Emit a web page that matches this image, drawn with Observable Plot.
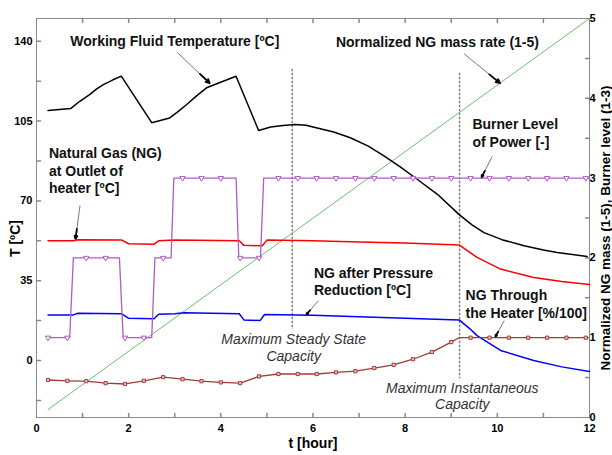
<!DOCTYPE html>
<html><head><meta charset="utf-8">
<script src="https://cdn.jsdelivr.net/npm/d3@7"></script>
<script src="https://cdn.jsdelivr.net/npm/@observablehq/plot@0.6"></script>
<style>body{margin:0;background:#fff} svg{display:block}</style>
</head><body><div id="chart"></div>
<script>
// ---- data (time in hours) ----
const wfTime = [0.25,0.74,0.94,1.16,1.3,1.45,1.65,1.84,2.5,2.89,3.05,3.26,3.48,3.69,4.05,4.33,4.82,5.08,5.35,5.62,5.85,6.09,6.45,6.81,7.2,7.54,7.9,8.26,8.7,9.16,9.45,9.71,10.1,10.58,11.0,11.3,11.95];
const wfTemp = [109.7,110.5,113.7,116.7,119,121,123,124.7,104.3,106.4,108.8,112.3,116.2,119.6,122.5,124.7,100.9,102.4,103.1,103.5,103.2,102,100.2,97.7,94,89.7,84.8,79.5,72.9,64.2,59.5,56.1,53,50.3,48.5,47.4,45.6];

const outTime = [0.25,0.8,0.9,1.85,2.0,2.55,2.65,3.0,4.4,4.5,4.9,5.0,6,7,8,9.17,9.56,10.07,10.79,11.4,12];
const outTemp = [52.5,52.5,53,52.8,51.2,51,52.5,52.8,52.5,50.5,50.3,52.8,52.5,52,51.5,50.7,45.2,40.1,36.4,34.6,33.3];

const redTime = [0.25,0.8,0.9,1.85,2.0,2.55,2.65,3.0,3.2,4.4,4.5,4.85,4.95,6,7,8,9.17,9.4,9.56,10.07,10.79,11.4,12];
const redTemp = [20,20,20.7,20.5,18.5,18.3,20.3,20.5,20.9,20.5,17.8,17.5,20.2,19.8,19.2,18.5,17.8,14,10.9,4.4,0,-2.8,-4.8];

const massTime = [0.25,12];
const massNorm = [0.1,5];

const burnerLineTime = [0.25,0.72,0.80,1.80,1.88,2.50,2.57,2.92,2.98,4.33,4.39,4.86,4.93,12];
const burnerLineLevel = [1,1,2,2,1,1,2,2,3,3,2,2,3,3];

const sampleTime = [0.25,0.67,1.08,1.5,1.92,2.33,2.75,3.17,3.58,4.0,4.42,4.83,5.25,5.67,6.08,6.5,6.92,7.33,7.75,8.17,8.58,9.0,9.42,9.83,10.25,10.67,11.08,11.5,11.92];
const burnerLevel = [1,1,2,2,1,1,2,3,3,3,2,2,3,3,3,3,3,3,3,3,3,3,3,3,3,3,3,3,3];
const throughHeater = [0.47,0.46,0.455,0.43,0.42,0.46,0.505,0.48,0.455,0.44,0.43,0.515,0.545,0.545,0.545,0.565,0.58,0.62,0.66,0.73,0.82,0.945,1,1,1,1,1,1,1];
const throughLineTime = [...sampleTime.slice(0,22), 9.17, ...sampleTime.slice(22)];
const throughLineVal = [...throughHeater.slice(0,22), 1, ...throughHeater.slice(22)];

const xTickLabels = [0,2,4,6,8,10,12];
const xMinorTicks = [1,2,3,4,5,6,7,8,9,10,11];
const leftTickLabels = [0,35,70,105,140];
const leftMinorTicks = [-17.5,0,17.5,35,52.5,70,87.5,105,122.5,140];
const rightTickLabels = [0,1,2,3,4,5];
const rightMinorTicks = [0.5,1,1.5,2,2.5,3,3.5,4,4.5];

const capacityLines = [{t:5.55, top:127.7, bottom:13.5},{t:9.18, top:126, bottom:-8}];

// right axis (0-5) mapped onto left axis units (-25..150)
const toLeft = v => -25 + 35*v;

const labelsStart = [
  {text:"Natural Gas (NG)\nat Outlet of\nheater [ºC]", t:0.27, T:83.6},
  {text:"Burner Level\nof Power [-]", t:9.46, T:100},
  {text:"NG after Pressure\nReduction [ºC]", t:6.02, T:35},
  {text:"NG Through\nthe Heater [%/100]", t:9.31, T:25.1}
];
const labelsMid = [
  {text:"Working Fluid Temperature [ºC]", t:3.0, T:140},
  {text:"Normalized NG mass rate (1-5)", t:8.70, T:139.6}
];
const labelsItalic = [
  {text:"Maximum Steady State\nCapacity", t:5.58, T:5.8},
  {text:"Maximum Instantaneous\nCapacity", t:9.24, T:-15.4}
];
const arrows = [
  {t1:3.05,T1:135.2,t2:3.76,T2:121.6},
  {t1:9.28,T1:134.5,t2:10.06,T2:121.6},
  {t1:0.944,T1:68.0,t2:0.847,T2:53.3},
  {t1:9.89,T1:89.5,t2:9.66,T2:80.4},
  {t1:6.12,T1:26.3,t2:5.86,T2:20.2},
  {t1:10.15,T1:17.5,t2:9.96,T2:10.5}
];

const tickShape = {draw(ctx, l){ ctx.moveTo(0,0); ctx.lineTo(0,-l); }};
const axisGray = "#8a8a8a";
const font = "Liberation Sans, Arial, Helvetica, sans-serif";

const chart = Plot.plot({
  width: 612, height: 455,
  marginLeft: 36, marginRight: 23, marginTop: 18, marginBottom: 38,
  x: {domain: [0,12]},
  y: {domain: [-25,150]},
  style: {fontFamily: font, background: "white", color: "black"},
  marks: [
    Plot.frame({stroke: axisGray}),
    // ticks inward
    Plot.vector(xMinorTicks, {x: d=>d, frameAnchor:"bottom", length:4, rotate:0, anchor:"start", shape:tickShape, stroke:axisGray}),
    Plot.vector(xMinorTicks, {x: d=>d, frameAnchor:"top", length:4, rotate:180, anchor:"start", shape:tickShape, stroke:axisGray}),
    Plot.vector(leftMinorTicks, {y: d=>d, frameAnchor:"left", length:4, rotate:90, anchor:"start", shape:tickShape, stroke:axisGray}),
    Plot.vector(rightMinorTicks, {y: d=>toLeft(d), frameAnchor:"right", length:4, rotate:-90, anchor:"start", shape:tickShape, stroke:axisGray}),
    Plot.axisX({ticks: xTickLabels, tickSize:0, tickPadding:7, fontSize:11, fontWeight:"bold", label:null}),
    Plot.axisY({anchor:"left", ticks: leftTickLabels, tickSize:0, tickPadding:4, fontSize:11, fontWeight:"bold", label:null}),
    Plot.axisY({anchor:"right", ticks: rightTickLabels.map(toLeft), tickFormat: d => String(Math.round((d+25)/35)), tickSize:0, tickPadding:0, fontSize:11, fontWeight:"bold", label:null}),
    Plot.text(["t [hour]"], {frameAnchor:"bottom", dy:30, fontSize:14, fontWeight:"bold"}),
    Plot.text(["T [ºC]"], {frameAnchor:"left", textAnchor:"middle", dx:-21, dy:20.5, rotate:-90, fontSize:14, fontWeight:"bold"}),
    Plot.text(["Normalized NG mass (1-5), Burner level (1-3)"], {frameAnchor:"right", textAnchor:"middle", dx:16, dy:10, rotate:-90, fontSize:13.5, fontWeight:"bold"}),
    // capacity lines
    Plot.ruleX(capacityLines, {x:"t", y1:"top", y2:"bottom", stroke:"#808080", strokeWidth:1.5, strokeDasharray:"2.5,1.5"}),
    // series
    Plot.line(d3.zip(massTime, massNorm), {x:d=>d[0], y:d=>toLeft(d[1]), stroke:"#5cb85c", strokeWidth:0.9}),
    Plot.line(d3.zip(wfTime, wfTemp), {x:d=>d[0], y:d=>d[1], stroke:"#000", strokeWidth:1.5}),
    Plot.line(d3.zip(outTime, outTemp), {x:d=>d[0], y:d=>d[1], stroke:"#ff0000", strokeWidth:1.5}),
    Plot.line(d3.zip(redTime, redTemp), {x:d=>d[0], y:d=>d[1], stroke:"#0000ff", strokeWidth:1.5}),
    Plot.line(d3.zip(burnerLineTime, burnerLineLevel), {x:d=>d[0], y:d=>toLeft(d[1]), stroke:"#b05cc4", strokeWidth:1.3}),
    Plot.dot(d3.zip(sampleTime, burnerLevel), {x:d=>d[0], y:d=>toLeft(d[1]), symbol:"triangle", rotate:180, r:2, stroke:"#b05cc4", fill:"white", strokeWidth:1}),
    Plot.line(d3.zip(throughLineTime, throughLineVal), {x:d=>d[0], y:d=>toLeft(d[1]), stroke:"#a33a3a", strokeWidth:1.3}),
    Plot.dot(d3.zip(sampleTime, throughHeater), {x:d=>d[0], y:d=>toLeft(d[1]), symbol:"square", r:1.8, stroke:"#a33a3a", fill:"#e9c4c4", strokeWidth:1}),
    // annotation arrows
    Plot.link(arrows, {x1:"t1", y1:"T1", x2:"t2", y2:"T2", stroke:"#7a7a7a", strokeWidth:1}),
    Plot.arrow(arrows, {x1:d=>d.t1+0.7*(d.t2-d.t1), y1:d=>d.T1+0.7*(d.T2-d.T1), x2:"t2", y2:"T2", stroke:"#000", strokeWidth:1.8, headLength:7, headAngle:50}),
    // annotation labels
    Plot.text(labelsStart, {x:"t", y:"T", text:"text", textAnchor:"start", lineHeight:1.25, fontSize:14, fontWeight:"bold", fill:"#111"}),
    Plot.text(labelsMid, {x:"t", y:"T", text:"text", textAnchor:"middle", fontSize:14, fontWeight:"bold", fill:"#111"}),
    Plot.text(labelsItalic, {x:"t", y:"T", text:"text", textAnchor:"middle", lineHeight:1.2, fontSize:14, fontStyle:"italic", fill:"#333"})
  ]
});
document.getElementById("chart").appendChild(chart);
</script>
</body></html>
